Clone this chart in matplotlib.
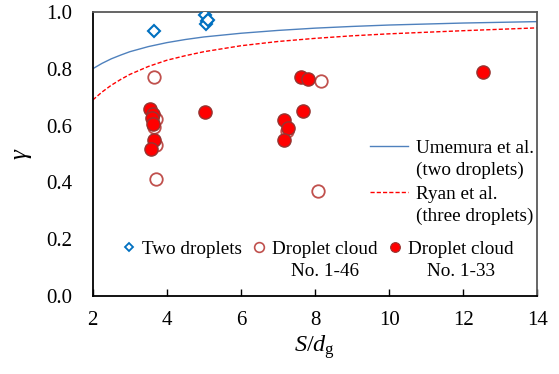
import matplotlib
matplotlib.use("Agg")
import matplotlib.pyplot as plt
from matplotlib.lines import Line2D

plt.rcParams['font.family'] = ['Liberation Serif', 'DejaVu Serif']
plt.rcParams['mathtext.fontset'] = 'custom'
plt.rcParams['mathtext.rm'] = 'Liberation Serif'
plt.rcParams['mathtext.it'] = 'Liberation Serif:italic'

# Data
two_x = [3.65, 5.03, 5.08, 5.05, 5.11]
two_y = [0.933, 0.989, 0.968, 0.958, 0.972]

open_x = [3.65, 3.70, 3.66, 3.70, 3.70, 8.16, 8.08, 7.24]
open_y = [0.771, 0.623, 0.595, 0.532, 0.412, 0.757, 0.370, 0.581]

fill_x = [3.55, 3.62, 3.60, 3.62, 3.65, 3.57, 5.03, 7.62, 7.81, 7.68, 7.16, 7.27, 7.16, 12.54]
fill_y = [0.658, 0.640, 0.625, 0.607, 0.549, 0.518, 0.648, 0.771, 0.764, 0.651, 0.620, 0.592, 0.549, 0.789]

ume_x = [2, 2.25, 2.5, 2.75, 3, 3.5, 4, 4.5, 5, 6, 7, 8, 9, 10, 12, 14]
ume_y = [0.800, 0.819, 0.835, 0.848, 0.860, 0.878, 0.892, 0.903, 0.912, 0.925, 0.935, 0.943, 0.949, 0.954, 0.961, 0.966]

ryan_x = [2, 2.25, 2.5, 2.75, 3, 3.5, 4, 4.5, 5, 6, 7, 8, 9, 10, 12, 14]
ryan_y = [0.690, 0.718, 0.742, 0.762, 0.780, 0.808, 0.830, 0.846, 0.860, 0.881, 0.896, 0.907, 0.916, 0.923, 0.934, 0.944]

xticks = [2, 4, 6, 8, 10, 12, 14]
yticks = [0.0, 0.2, 0.4, 0.6, 0.8, 1.0]

FS = 13.75

fig = plt.figure(figsize=(5.59, 3.74), dpi=100)
ax = fig.add_axes([0.166, 0.209, 0.795, 0.759])

ax.plot(ume_x, ume_y, color='#4F81BD', lw=1.0, zorder=2)
ax.plot(ryan_x, ryan_y, color='#FF0000', lw=1.0, ls=(0, (3, 1.5)), zorder=2)

ax.plot(open_x, open_y, ls='none', marker='o', ms=9, mfc='white', mec='#C0504D', mew=1.3, zorder=3)
ax.plot(fill_x, fill_y, ls='none', marker='o', ms=9.5, mfc='#FF0000', mec='#953532', mew=1.0, zorder=4)
ax.plot(two_x, two_y, ls='none', marker='D', ms=6.5, mfc='white', mec='#0070C0', mew=1.5, zorder=5)

ax.set_xlim(2, 14)
ax.set_ylim(0, 1.0)
ax.set_xticks(xticks)
ax.set_yticks(yticks)
ax.set_yticklabels([f"{v:.1f}" for v in yticks])
ax.tick_params(axis='x', direction='in', length=5, width=1, pad=11, labelsize=15, top=False)
ax.tick_params(axis='y', length=0, pad=15, labelsize=15)

for s in ['left', 'bottom']:
    ax.spines[s].set_color('black')
    ax.spines[s].set_linewidth(1.3)
for s in ['top', 'right']:
    ax.spines[s].set_color('#595959')
    ax.spines[s].set_linewidth(1.3)

ax.set_xlabel(r'$\mathit{S}/\mathit{d}_{\mathrm{g}}$', fontsize=17.5, labelpad=2)
ax.set_ylabel('γ', fontsize=18, fontstyle='italic', labelpad=10)

# Bottom legend (markers)
h1 = [Line2D([], [], ls='none', marker='D', ms=4.5, mfc='white', mec='#0070C0', mew=1.3),
      Line2D([], [], ls='none', marker='o', ms=7, mfc='white', mec='#C0504D', mew=1.2),
      Line2D([], [], ls='none', marker='o', ms=7, mfc='#FF0000', mec='#953532', mew=0.8)]
leg1 = ax.legend(h1, ['Two droplets', 'Droplet cloud', 'Droplet cloud'], ncol=3,
                 loc='center', bbox_to_anchor=(0.508, 0.164), frameon=False,
                 fontsize=FS, handlelength=0.6, handletextpad=0.38,
                 columnspacing=0.62, borderpad=0, borderaxespad=0)
ax.add_artist(leg1)

# Right legend (lines)
h2 = [Line2D([], [], color='#4F81BD', lw=1.0),
      Line2D([], [], color='#FF0000', lw=1.0, ls=(0, (3, 1.5)))]
leg2 = ax.legend(h2, ['Umemura et al.', 'Ryan et al.'], loc='upper left',
                 bbox_to_anchor=(0.624, 0.552), frameon=False, fontsize=FS,
                 handlelength=2.0, handletextpad=0.42, labelspacing=1.5,
                 borderpad=0, borderaxespad=0)

fig.canvas.draw()
r = fig.canvas.get_renderer()
line_px = 22
texts1 = leg1.get_texts()
for t, second in zip(texts1[1:], ['No. 1-46', 'No. 1-33']):
    bb = t.get_window_extent(r)
    cx = (bb.x0 + bb.x1) / 2
    cy = (bb.y0 + bb.y1) / 2 - line_px
    fig.text(cx / fig.bbox.width, cy / fig.bbox.height, second, ha='center', va='center', fontsize=FS)
for t, second in zip(leg2.get_texts(), ['(two droplets)', '(three droplets)']):
    bb = t.get_window_extent(r)
    cy = (bb.y0 + bb.y1) / 2 - line_px
    fig.text(bb.x0 / fig.bbox.width, cy / fig.bbox.height, second, ha='left', va='center', fontsize=FS)

fig.savefig('out.png', dpi=100)
